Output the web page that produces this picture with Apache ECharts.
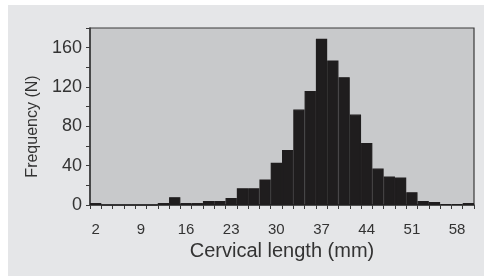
<!DOCTYPE html>
<html>
<head>
<meta charset="utf-8">
<script src="https://cdn.jsdelivr.net/npm/echarts@6/dist/echarts.min.js"></script>
<style>
html,body{margin:0;padding:0;background:#fff;}
#c{width:484px;height:276px;}
</style>
</head>
<body>
<div id="c"></div>
<script>
// Bin centres (mm), bins of 1.75 mm; labelled every 4th bin
const binCenters = ["2","3.75","5.5","7.25","9","10.75","12.5","14.25","16","17.75","19.5","21.25","23","24.75","26.5","28.25","30","31.75","33.5","35.25","37","38.75","40.5","42.25","44","45.75","47.5","49.25","51","52.75","54.5","56.25","58","59.75"];
const tickLabels = ["2","9","16","23","30","37","44","51","58"];
const frequency = [2,0,0,0,0,0,2,8,2,2,4,4,7,17,17,26,43,56,97,116,169,147,130,92,63,37,29,28,13,4,3,1,1,2];
const yTicks = [0,40,80,120,160];

const chart = echarts.init(document.getElementById('c'), null, {renderer:'canvas'});
const font = '"Liberation Sans", Arial, sans-serif';
chart.setOption({
  backgroundColor: '#ffffff',
  animation: false,
  graphic: [{
    type: 'rect', z: -10, silent: true,
    shape: {x: 8, y: 5, width: 476, height: 271},
    style: {fill: '#e5e6e8'}
  }],
  grid: {
    left: 90, right: 10, top: 28, bottom: 71,
    show: true, backgroundColor: '#c8c9cb', borderColor: '#3a3a3a', borderWidth: 1.2
  },
  xAxis: {
    type: 'category',
    data: binCenters,
    boundaryGap: true,
    name: 'Cervical length (mm)',
    nameLocation: 'middle',
    nameGap: 33,
    nameTextStyle: {fontFamily: font, fontSize: 20, color: '#333'},
    axisLine: {show: true, lineStyle: {color: '#3a3a3a', width: 1.5}},
    axisTick: {show: true, interval: 0, length: 4, alignWithLabel: false, lineStyle: {color: '#3a3a3a', width: 1}},
    axisLabel: {
      interval: 0, margin: 17,
      fontFamily: font, fontSize: 15, color: '#333',
      formatter: v => tickLabels.includes(v) ? v : ''
    },
    splitLine: {show: false}
  },
  yAxis: {
    type: 'value',
    min: 0, max: 180, interval: 20,
    name: 'Frequency (N)',
    nameLocation: 'middle',
    nameGap: 46,
    nameRotate: 90,
    nameTextStyle: {fontFamily: font, fontSize: 16, color: '#333', padding: [0, 0, 0, -20]},
    axisLine: {show: true, lineStyle: {color: '#3a3a3a', width: 1.5}},
    axisTick: {show: true, length: 4, lineStyle: {color: '#3a3a3a', width: 1}},
    axisLabel: {
      margin: 8, fontFamily: font, fontSize: 18, color: '#333',
      formatter: v => yTicks.includes(v) ? String(v) : ''
    },
    splitLine: {show: false}
  },
  series: [{
    type: 'bar',
    data: frequency,
    barCategoryGap: '0%',
    itemStyle: {color: '#1f1d1e', borderColor: '#1f1d1e', borderWidth: 1.2}
  }]
});
</script>
</body>
</html>
